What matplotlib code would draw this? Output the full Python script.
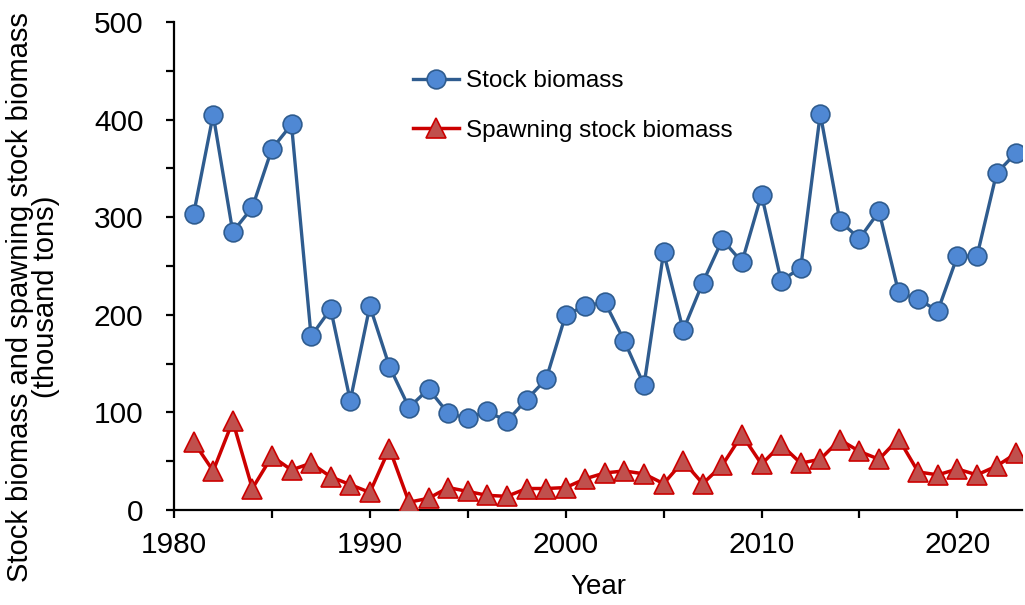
import numpy as np
import matplotlib
matplotlib.use("Agg")
import matplotlib.pyplot as plt
from matplotlib.ticker import MultipleLocator

plt.rcParams['font.family'] = ['Liberation Sans', 'DejaVu Sans']

years = np.arange(1981, 2024)
stock = [303, 405, 285, 310, 370, 395, 178, 206, 112, 209,
         147, 105, 124, 99, 94, 101, 91, 113, 134, 200,
         209, 213, 173, 128, 264, 184, 233, 277, 254, 323,
         235, 248, 406, 296, 278, 306, 223, 216, 204, 260,
         260, 345, 366]
spawning = [70, 40, 91, 22, 55, 41, 48, 34, 26, 18,
            63, 8, 12, 23, 19, 15, 14, 22, 22, 23,
            32, 38, 40, 37, 27, 50, 27, 46, 77, 47,
            67, 48, 52, 72, 60, 52, 73, 39, 36, 42,
            36, 45, 58]

fig = plt.figure(figsize=(10.25, 6.05), dpi=100)
ax = fig.add_axes([174/1025, 1-510/605, (1022-174)/1025, 488/605])

ax.plot(years, stock, color='#2F5C8F', lw=2.4, marker='o', ms=13.5,
        mfc='#4F88D4', mec='#2F5C8F', mew=1.2, label='Stock biomass', zorder=3)
ax.plot(years, spawning, color='#CC0000', lw=2.5, marker='^', ms=15,
        mfc='#C0504D', mec='#CC0000', mew=1.2, label='Spawning stock biomass', zorder=3)

ax.set_xlim(1980, 2023.3)
ax.set_ylim(0, 500)
ax.xaxis.set_major_locator(MultipleLocator(10))
ax.xaxis.set_minor_locator(MultipleLocator(5))
ax.yaxis.set_major_locator(MultipleLocator(100))
ax.yaxis.set_minor_locator(MultipleLocator(50))
ax.tick_params(which='both', direction='out', length=6, width=1.6, color='black')
ax.tick_params(axis='y', which='major', labelsize=21.5, pad=16)
ax.tick_params(axis='x', which='major', labelsize=21.5, pad=9)

for s in ['top', 'right']:
    ax.spines[s].set_visible(False)
for s in ['left', 'bottom']:
    ax.spines[s].set_linewidth(1.6)
ax.set_clip_on(False)

ax.set_xlabel('Year', fontsize=20, labelpad=11)
fig.text(33/1025, 1-297/605,
         'Stock biomass and spawning stock biomass\n(thousand tons)',
         rotation=90, ha='center', va='center', fontsize=21,
         linespacing=0.95, multialignment='center')

ax.legend(loc='upper left', bbox_to_anchor=(413/1025, 1-70/605),
          bbox_transform=fig.transFigure, frameon=False, fontsize=17.5,
          handlelength=1.9, handletextpad=0.3, labelspacing=1.15,
          borderpad=0, borderaxespad=0)

fig.savefig('out.png', dpi=100)
